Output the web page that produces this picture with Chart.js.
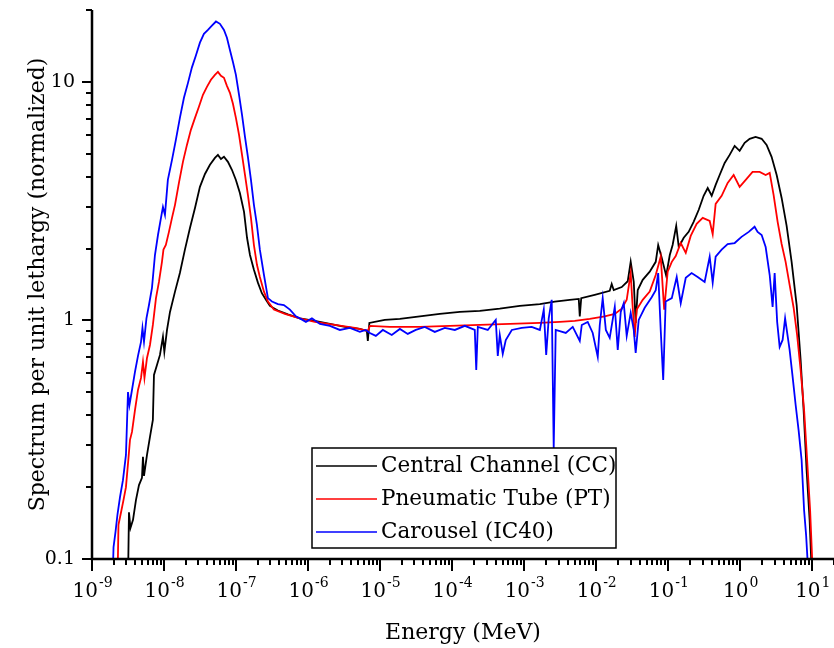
<!DOCTYPE html>
<html lang="en">
<head>
<meta charset="UTF-8">
<title>Spectrum per unit lethargy</title>
<script src="https://cdn.jsdelivr.net/npm/chart.js@4.4.1/dist/chart.umd.min.js"></script>
<style>
  html, body { margin: 0; padding: 0; background: #fff; }
  #wrap { width: 834px; height: 648px; }
</style>
</head>
<body>
<div id="wrap"><canvas id="spectrum" width="834" height="648"></canvas></div>
<script>
// Central Channel (CC), energy in MeV
const energyCC = [3.16e-9, 3.26e-9, 3.42e-9, 3.71e-9, 4.08e-9, 4.49e-9, 4.94e-9, 5.10e-9, 5.27e-9, 5.80e-9,
  6.38e-9, 7.00e-9, 7.25e-9, 7.98e-9, 8.78e-9, 9.66e-9, 1.01e-8, 1.10e-8, 1.21e-8, 1.42e-8,
  1.66e-8, 1.95e-8, 2.29e-8, 2.69e-8, 3.15e-8, 3.70e-8, 4.34e-8, 5.09e-8, 5.60e-8, 6.17e-8,
  6.79e-8, 7.71e-8, 8.76e-8, 9.95e-8, 1.13e-7, 1.29e-7, 1.42e-7, 1.56e-7, 1.77e-7, 2.01e-7,
  2.28e-7, 2.60e-7, 2.95e-7, 3.81e-7, 5.24e-7, 7.69e-7, 1.24e-6, 2.01e-6, 3.24e-6, 5.23e-6,
  6.54e-6, 6.75e-6, 7.09e-6, 1.16e-5, 1.88e-5, 3.56e-5, 6.74e-5, 1.28e-4, 2.42e-4, 4.58e-4,
  8.68e-4, 1.65e-3, 2.66e-3, 4.29e-3, 5.72e-3, 5.91e-3, 6.19e-3, 9.53e-3, 1.54e-2, 1.64e-2,
  1.75e-2, 2.26e-2, 2.74e-2, 3.01e-2, 3.32e-2, 3.53e-2, 3.77e-2, 4.42e-2, 5.53e-2, 6.70e-2,
  7.25e-2, 8.11e-2, 9.36e-2, 0.105, 0.115, 0.129, 0.140, 0.164, 0.192, 0.225,
  0.265, 0.310, 0.353, 0.401, 0.455, 0.517, 0.607, 0.712, 0.835, 0.980,
  1.15, 1.35, 1.63, 1.98, 2.32, 2.72, 3.20, 3.75, 4.40, 5.16,
  6.06, 6.88, 7.57, 8.33, 9.17, 9.78];
const spectrumCC = [0.08, 0.157, 0.135, 0.146, 0.177, 0.204, 0.219, 0.268, 0.223, 0.273,
  0.325, 0.383, 0.591, 0.651, 0.717, 0.853, 0.738, 0.912, 1.085, 1.32,
  1.58, 1.98, 2.44, 2.96, 3.63, 4.11, 4.49, 4.80, 4.94, 4.75,
  4.85, 4.62, 4.28, 3.88, 3.42, 2.85, 2.22, 1.88, 1.63, 1.44,
  1.30, 1.22, 1.15, 1.10, 1.06, 1.02, 0.995, 0.967, 0.939, 0.921,
  0.904, 0.820, 0.976, 1.005, 1.015, 1.04, 1.065, 1.085, 1.096, 1.12,
  1.15, 1.17, 1.20, 1.22, 1.23, 1.04, 1.24, 1.28, 1.33, 1.42,
  1.34, 1.38, 1.46, 1.76, 1.45, 0.976, 1.34, 1.48, 1.60, 1.76,
  2.07, 1.83, 1.54, 1.88, 2.07, 2.49, 2.03, 2.22, 2.35, 2.59,
  2.91, 3.33, 3.59, 3.33, 3.70, 4.07, 4.57, 4.94, 5.39, 5.14,
  5.55, 5.77, 5.88, 5.77, 5.44, 4.85, 4.07, 3.26, 2.49, 1.76,
  1.16, 0.683, 0.421, 0.236, 0.146, 0.09];

// Pneumatic Tube (PT)
const energyPT = [2.26e-9, 2.33e-9, 2.53e-9, 2.74e-9, 2.96e-9, 3.21e-9, 3.37e-9, 3.59e-9, 3.95e-9, 4.35e-9,
  4.79e-9, 5.10e-9, 5.35e-9, 5.80e-9, 6.38e-9, 7.00e-9, 7.73e-9, 8.50e-9, 9.36e-9, 9.82e-9,
  1.06e-8, 1.17e-8, 1.29e-8, 1.42e-8, 1.61e-8, 1.83e-8, 2.08e-8, 2.36e-8, 2.69e-8, 3.05e-8,
  3.47e-8, 3.94e-8, 4.48e-8, 5.09e-8, 5.60e-8, 6.17e-8, 6.79e-8, 7.47e-8, 8.22e-8, 9.05e-8,
  9.95e-8, 1.10e-7, 1.21e-7, 1.33e-7, 1.46e-7, 1.61e-7, 1.77e-7, 1.95e-7, 2.14e-7, 2.44e-7,
  2.77e-7, 3.35e-7, 4.76e-7, 7.69e-7, 1.24e-6, 2.35e-6, 4.46e-6, 6.75e-6, 7.20e-6, 1.36e-5,
  3.56e-5, 9.28e-5, 2.42e-4, 6.31e-4, 1.65e-3, 3.12e-3, 5.03e-3, 8.13e-3, 1.31e-2, 1.81e-2,
  2.26e-2, 2.65e-2, 3.01e-2, 3.16e-2, 3.42e-2, 3.65e-2, 4.42e-2, 5.53e-2, 6.70e-2, 7.86e-2,
  8.78e-2, 9.82e-2, 0.112, 0.127, 0.149, 0.175, 0.205, 0.248, 0.301, 0.376,
  0.414, 0.455, 0.551, 0.668, 0.809, 0.980, 1.19, 1.48, 1.86, 2.25,
  2.56, 2.90, 3.30, 3.75, 4.26, 4.84, 5.50, 6.15, 6.88, 7.69,
  8.47, 9.32, 10.1];
const spectrumPT = [0.08, 0.139, 0.157, 0.177, 0.200, 0.265, 0.316, 0.341, 0.421, 0.511,
  0.574, 0.670, 0.574, 0.696, 0.789, 0.957, 1.24, 1.45, 1.76, 1.98,
  2.07, 2.35, 2.69, 3.05, 3.77, 4.62, 5.44, 6.29, 7.06, 7.86,
  8.82, 9.53, 10.2, 10.7, 11.0, 10.6, 10.4, 9.62, 8.99, 8.09,
  7.06, 5.99, 4.94, 4.07, 3.36, 2.69, 2.07, 1.71, 1.52, 1.32,
  1.20, 1.11, 1.065, 1.02, 0.986, 0.957, 0.930, 0.904, 0.949, 0.939,
  0.939, 0.949, 0.957, 0.967, 0.976, 0.986, 0.995, 1.015, 1.04, 1.065,
  1.12, 1.22, 1.58, 1.22, 0.853, 1.11, 1.22, 1.32, 1.55, 1.85,
  1.11, 1.60, 1.76, 1.86, 2.11, 1.92, 2.26, 2.54, 2.69, 2.61,
  2.30, 3.08, 3.33, 3.77, 4.07, 3.63, 3.88, 4.19, 4.19, 4.07,
  4.15, 3.36, 2.59, 2.09, 1.76, 1.41, 1.13, 0.869, 0.620, 0.421,
  0.260, 0.160, 0.09];

// Carousel (IC40)
const energyIC = [1.93e-9, 1.99e-9, 2.12e-9, 2.26e-9, 2.45e-9, 2.69e-9, 2.96e-9, 3.16e-9, 3.31e-9, 3.59e-9,
  3.95e-9, 4.35e-9, 4.79e-9, 5.02e-9, 5.27e-9, 5.70e-9, 6.18e-9, 6.80e-9, 7.48e-9, 8.24e-9,
  9.07e-9, 9.66e-9, 1.03e-8, 1.13e-8, 1.29e-8, 1.46e-8, 1.66e-8, 1.89e-8, 2.15e-8, 2.44e-8,
  2.77e-8, 3.15e-8, 3.58e-8, 4.07e-8, 4.62e-8, 5.26e-8, 5.97e-8, 6.79e-8, 7.47e-8, 8.22e-8,
  9.05e-8, 9.95e-8, 1.10e-7, 1.21e-7, 1.33e-7, 1.46e-7, 1.61e-7, 1.77e-7, 1.95e-7, 2.14e-7,
  2.44e-7, 2.77e-7, 3.15e-7, 3.81e-7, 4.61e-7, 5.59e-7, 6.77e-7, 7.69e-7, 9.32e-7, 1.13e-6,
  1.46e-6, 2.01e-6, 2.76e-6, 3.80e-6, 5.23e-6, 6.34e-6, 7.20e-6, 8.72e-6, 1.09e-5, 1.45e-5,
  1.88e-5, 2.42e-5, 3.13e-5, 4.17e-5, 5.74e-5, 7.91e-5, 1.09e-4, 1.50e-4, 2.06e-4, 2.16e-4,
  2.27e-4, 3.12e-4, 4.03e-4, 4.30e-4, 4.58e-4, 5.04e-4, 5.55e-4, 6.73e-4, 9.26e-4, 1.27e-3,
  1.65e-3, 1.87e-3, 2.02e-3, 2.19e-3, 2.41e-3, 2.57e-3, 2.74e-3, 3.78e-3, 4.72e-3, 5.91e-3,
  6.30e-3, 7.62e-3, 8.94e-3, 1.05e-2, 1.12e-2, 1.23e-2, 1.36e-2, 1.54e-2, 1.81e-2, 1.99e-2,
  2.19e-2, 2.41e-2, 2.65e-2, 3.01e-2, 3.32e-2, 3.53e-2, 3.89e-2, 4.71e-2, 5.89e-2, 6.70e-2,
  7.25e-2, 7.86e-2, 8.51e-2, 9.21e-2, 0.112, 0.131, 0.149, 0.175, 0.211, 0.256,
  0.320, 0.376, 0.414, 0.455, 0.551, 0.668, 0.835, 1.04, 1.31, 1.58,
  1.74, 1.98, 2.25, 2.56, 2.81, 3.00, 3.25, 3.52, 3.87, 4.19,
  4.54, 4.84, 5.33, 5.87, 6.45, 7.10, 7.69, 8.20, 8.74];
const spectrumIC = [0.08, 0.112, 0.130, 0.154, 0.182, 0.214, 0.273, 0.501, 0.442, 0.511,
  0.608, 0.710, 0.813, 0.930, 0.813, 1.02, 1.16, 1.37, 1.88, 2.28,
  2.69, 2.99, 2.77, 3.88, 4.71, 5.71, 7.06, 8.57, 9.90, 11.5,
  12.9, 14.6, 15.9, 16.5, 17.2, 17.9, 17.5, 16.5, 15.3, 13.6,
  12.1, 10.7, 8.82, 7.27, 5.88, 4.85, 3.88, 3.05, 2.51, 1.98,
  1.55, 1.24, 1.20, 1.17, 1.16, 1.11, 1.04, 1.02, 0.986, 1.02,
  0.967, 0.949, 0.912, 0.930, 0.895, 0.912, 0.886, 0.861, 0.912, 0.869,
  0.921, 0.878, 0.912, 0.939, 0.895, 0.930, 0.912, 0.949, 0.912, 0.620,
  0.939, 0.912, 1.005, 0.710, 0.869, 0.724, 0.828, 0.912, 0.930, 0.939,
  0.912, 1.11, 0.717, 1.02, 1.22, 0.292, 0.912, 0.886, 0.939, 0.820,
  0.957, 0.986, 0.886, 0.703, 0.957, 1.24, 0.912, 0.845, 1.14, 0.752,
  1.085, 1.18, 0.861, 1.075, 0.912, 0.731, 1.005, 1.13, 1.25, 1.34,
  1.58, 0.912, 0.563, 1.20, 1.24, 1.52, 1.18, 1.51, 1.58, 1.52,
  1.45, 1.85, 1.44, 1.85, 1.98, 2.09, 2.11, 2.24, 2.35, 2.47,
  2.35, 2.28, 2.03, 1.55, 1.14, 1.58, 0.986, 0.774, 0.828, 1.02,
  0.861, 0.752, 0.580, 0.442, 0.347, 0.260, 0.160, 0.126, 0.09];

const seriesNames = ['Central Channel (CC)', 'Pneumatic Tube (PT)', 'Carousel (IC40)'];
const seriesColors = ['#000000', '#ff0000', '#0000ff'];

// x ticks are powers of ten, written as 10 with a raised exponent
const xTickValues = [1e-9, 1e-8, 1e-7, 1e-6, 1e-5, 1e-4, 1e-3, 1e-2, 1e-1, 1e0, 1e1];
const xTickExponents = ['-9', '-8', '-7', '-6', '-5', '-4', '-3', '-2', '-1', '0', '1'];
const yTickValues = [0.1, 1, 10];
const yTickLabels = ['0.1', '1', '10'];

const FONT = "'DejaVu Serif', serif";

function toPoints(xs, ys) {
  const n = Math.min(xs.length, ys.length);
  const pts = [];
  for (let i = 0; i < n; i++) pts.push({ x: xs[i], y: ys[i] });
  return pts;
}

// axis lines, minor/major tick marks, x tick labels and the boxed legend
const frameAndLegend = {
  id: 'frameAndLegend',
  afterDatasetsDraw(chart) {
    const { ctx, chartArea: a, scales } = chart;
    const xs = scales.x, ys = scales.y;
    ctx.save();
    ctx.strokeStyle = '#000';
    ctx.lineCap = 'butt';

    // x ticks (outward, below the axis)
    ctx.lineWidth = 2;
    for (let e = -9; e <= 1; e++) {
      for (let m = 1; m <= 9; m++) {
        const v = m * Math.pow(10, e);
        if (v > xs.max) break;
        const px = Math.round(xs.getPixelForValue(v));
        ctx.beginPath();
        ctx.moveTo(px, a.bottom);
        ctx.lineTo(px, a.bottom + (m === 1 ? 12 : 6));
        ctx.stroke();
      }
    }
    // y ticks (outward, left of the axis)
    for (let e = -1; e <= 1; e++) {
      for (let m = 1; m <= 9; m++) {
        const v = m * Math.pow(10, e);
        if (v > ys.max + 1e-9) break;
        const py = Math.round(ys.getPixelForValue(v));
        ctx.beginPath();
        ctx.moveTo(a.left, py);
        ctx.lineTo(a.left - (m === 1 ? 10 : 6), py);
        ctx.stroke();
      }
    }
    // axis lines
    ctx.lineWidth = 2.5;
    ctx.beginPath();
    ctx.moveTo(a.left, a.top);
    ctx.lineTo(a.left, a.bottom);
    ctx.lineTo(a.right, a.bottom);
    ctx.stroke();

    // x tick labels: "10" plus superscript exponent
    ctx.fillStyle = '#000';
    ctx.textAlign = 'left';
    ctx.textBaseline = 'alphabetic';
    xTickValues.forEach((v, i) => {
      const px = xs.getPixelForValue(v);
      ctx.font = '20px ' + FONT;
      const wb = ctx.measureText('10').width;
      ctx.font = '14px ' + FONT;
      const we = ctx.measureText(xTickExponents[i]).width;
      const x0 = px - (wb + we) / 2;
      ctx.font = '20px ' + FONT;
      ctx.fillText('10', x0, a.bottom + 38);
      ctx.font = '14px ' + FONT;
      ctx.fillText(xTickExponents[i], x0 + wb + 1, a.bottom + 28);
    });

    // legend box
    const bx = 312, by = 448, bw = 304, bh = 100;
    ctx.fillStyle = '#fff';
    ctx.fillRect(bx, by, bw, bh);
    ctx.lineWidth = 1.5;
    ctx.strokeStyle = '#000';
    ctx.strokeRect(bx, by, bw, bh);
    ctx.font = '21.5px ' + FONT;
    ctx.textBaseline = 'middle';
    ctx.textAlign = 'left';
    const rows = [466, 499, 532];
    chart.data.datasets.forEach((ds, i) => {
      ctx.strokeStyle = ds.borderColor;
      ctx.lineWidth = 1.6;
      ctx.beginPath();
      ctx.moveTo(bx + 4, rows[i]);
      ctx.lineTo(bx + 65, rows[i]);
      ctx.stroke();
      ctx.fillStyle = '#000';
      ctx.fillText(ds.label, bx + 69, rows[i]);
    });
    ctx.restore();
  }
};

const ctx = document.getElementById('spectrum').getContext('2d');
new Chart(ctx, {
  type: 'line',
  data: {
    datasets: [
      { label: seriesNames[0], data: toPoints(energyCC, spectrumCC), borderColor: seriesColors[0], order: 3 },
      { label: seriesNames[1], data: toPoints(energyPT, spectrumPT), borderColor: seriesColors[1], order: 2 },
      { label: seriesNames[2], data: toPoints(energyIC, spectrumIC), borderColor: seriesColors[2], order: 1 }
    ]
  },
  options: {
    responsive: false,
    animation: false,
    parsing: false,
    layout: { padding: { top: 10, right: 0, left: 0, bottom: 0 } },
    elements: {
      line: { borderWidth: 1.8, stepped: false, tension: 0, fill: false, borderJoinStyle: 'miter' },
      point: { radius: 0, hoverRadius: 0 }
    },
    plugins: {
      legend: { display: false },
      tooltip: { enabled: false },
      title: { display: false }
    },
    scales: {
      x: {
        type: 'logarithmic',
        min: 1e-9,
        max: 20,
        grid: { display: false, drawTicks: false },
        border: { display: false },
        afterBuildTicks: s => { s.ticks = xTickValues.map(v => ({ value: v })); },
        afterFit: s => {
          s.height = 89;
          s.paddingLeft = 0;
          s.paddingRight = 0;
        },
        ticks: { display: false },
        title: {
          display: true,
          text: 'Energy (MeV)',
          color: '#000',
          font: { family: FONT, size: 22 },
          padding: { top: 0, bottom: 2 }
        }
      },
      y: {
        type: 'logarithmic',
        min: 0.1,
        max: 20,
        grid: { display: false, drawTicks: false },
        border: { display: false },
        afterBuildTicks: s => { s.ticks = yTickValues.map(v => ({ value: v })); },
        afterFit: s => {
          s.width = 92;
          s.paddingTop = 0;
          s.paddingBottom = 0;
        },
        ticks: {
          autoSkip: false,
          padding: 17,
          color: '#000',
          font: { family: FONT, size: 19 },
          callback: (v, i) => yTickLabels[i]
        },
        title: {
          display: true,
          text: 'Spectrum per unit lethargy (normalized)',
          color: '#000',
          font: { family: FONT, size: 22 },
          padding: { top: 25, bottom: 0 }
        }
      }
    }
  },
  plugins: [frameAndLegend]
});
</script>
</body>
</html>
